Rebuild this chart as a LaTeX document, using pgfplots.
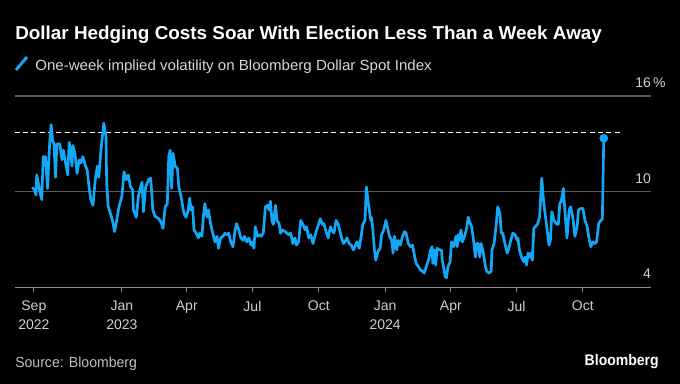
\documentclass[border=0pt]{standalone}
\usepackage{pgfplots}
\pgfplotsset{compat=1.18}
\usepackage{pgfplotstable}
\usepackage{graphicx}
\usepackage{fontspec}
\setmainfont{Liberation Sans}
\definecolor{lineblue}{HTML}{12A8F7}
\definecolor{gridgray}{HTML}{5C5C5C}
\definecolor{axisgray}{HTML}{8C8C8C}
\definecolor{tickgray}{HTML}{CFCFCF}
\definecolor{subgray}{HTML}{D6D6D6}
\definecolor{srcgray}{HTML}{BEBEBE}

% x = days since 1 Sep 2022, y = one-week implied volatility (%)
\pgfplotstableread{
x y
-2 10.28
1 10.1
3 9.8
4 11.05
6 10.6
8 10.1
11 9.5
13 12.2
16 12.2
19 10.2
22 13.1
24 14.2
26 13.2
28 13.0
30 10.9
32 13.0
36 13.0
39 12.0
41 12.6
44 11.8
47 11.05
49 13.1
51 12.4
53 11.6
54 12.9
57 12.4
60 11.15
63 12.0
65 11.8
68 12.2
71 11.7
74 11.35
77 10.1
79 9.5
82 9.15
85 10.7
88 11.6
90 10.9
93 12.6
95 13.45
97 14.3
100 13.45
101 10.5
103 9.1
106 8.65
109 8.2
112 7.5
114 8.0
118 9.05
122 9.7
125 11.25
128 10.75
131 11.05
134 10.3
137 10.1
138 8.85
142 8.4
145 9.7
148 10.3
150 10.6
152 8.75
155 10.3
159 10.75
162 10.85
165 8.85
168 8.45
172 8.35
175 8.2
177 8.0
179 7.7
182 9.05
185 9.25
187 12.2
189 12.6
191 10.2
193 12.4
196 11.6
199 11.45
201 10.3
204 9.7
208 8.65
211 8.4
214 8.85
216 9.6
218 8.85
220 9.05
222 7.6
225 7.4
228 7.1
230 7.4
233 7.2
235 8.4
237 9.25
240 8.4
242 8.85
245 8.0
248 7.4
251 6.85
254 7.2
256 6.45
259 7.1
262 7.2
265 7.4
267 7.3
270 7.4
273 6.85
276 6.55
279 7.6
281 8.0
284 7.6
287 7.1
290 6.95
292 7.2
295 6.85
298 7.1
301 6.65
303 6.85
305 6.45
307 7.8
310 7.2
313 7.3
315 7.2
318 7.4
321 9.05
324 9.15
326 8.85
328 9.4
330 8.2
332 7.95
335 9.15
337 8.2
340 8.0
342 7.4
345 7.6
348 7.5
351 7.4
353 7.3
356 7.4
359 6.75
362 7.1
364 6.65
367 6.85
370 8.2
373 7.95
376 7.6
378 7.8
381 7.1
384 7.3
387 6.75
389 7.1
392 7.6
395 8.0
397 8.3
400 7.95
402 8.0
405 7.5
408 7.1
411 7.8
413 7.6
416 7.4
419 8.2
422 7.95
426 7.2
429 6.75
431 6.85
434 7.1
437 6.75
440 6.65
443 6.35
445 6.55
448 6.85
451 6.45
454 7.3
456 7.95
459 8.2
461 10.3
463 9.5
465 8.85
467 8.2
468 8.4
470 7.6
472 6.35
474 5.7
477 6.25
480 6.45
482 7.3
485 7.6
488 8.2
491 7.6
493 7.2
496 6.95
498 6.15
500 7.2
503 6.35
505 6.95
508 6.65
511 7.2
514 7.5
516 7.4
519 6.75
522 6.55
525 6.65
528 5.9
530 5.5
533 5.3
536 5.1
539 5.0
541 4.9
544 5.3
547 5.7
550 6.35
552 6.55
553 5.5
555 6.35
557 5.4
559 6.45
562 6.35
565 6.35
566 5.7
568 5.3
570 4.7
572 4.6
574 5.3
577 5.6
579 6.85
582 6.55
585 7.2
587 6.55
588 7.3
590 6.95
592 7.6
594 6.85
597 7.2
600 7.7
602 8.4
604 8.1
607 7.8
610 6.75
612 5.9
614 6.75
616 6.75
618 5.9
620 6.75
623 6.15
626 5.3
628 5.0
631 4.9
634 5.0
635 6.35
638 6.75
641 8.0
643 9.05
646 8.65
648 7.4
650 7.4
653 6.75
656 6.15
658 6.35
661 6.95
664 7.4
667 7.3
670 6.95
671 7.1
673 6.35
676 5.9
679 5.6
681 5.9
683 5.4
685 6.15
687 5.9
689 6.15
691 5.7
693 7.7
695 7.8
698 7.95
701 8.4
704 10.85
706 9.7
708 8.85
711 7.8
714 6.65
716 6.95
718 8.75
721 8.2
724 8.0
727 7.95
729 9.25
731 9.4
734 10.2
736 8.85
739 7.1
742 8.85
744 9.05
747 8.4
750 7.2
753 7.8
755 8.85
758 8.95
761 8.95
764 8.2
767 7.8
769 7.2
772 6.55
775 6.85
778 6.75
780 6.85
783 8.0
786 8.2
788 8.3
790 13.35
}\voldata

\begin{document}
\begin{tikzpicture}
\useasboundingbox (0,0) rectangle (510pt,288pt);
\fill[black] (0,0) rectangle (510pt,288pt);
\begin{axis}[
  at={(10.875pt,72.45pt)}, anchor=south west,
  scale only axis, width=477.5pt, height=143.55pt,
  xmin=-26.8, xmax=855.7, ymin=4, ymax=16,
  axis x line*=bottom, axis y line*=right,
  x axis line style={draw=axisgray, line width=1.1pt},
  y axis line style={draw=none},
  ytick={4,10,16}, yticklabels={4,10,16\rlap{\,\%}},
  ymajorgrids, grid style={draw=gridgray, line width=0.8pt},
  ytick style={draw=none},
  xtick={0,122,212,303,395,487,578,669,761},
  xticklabels={Sep\\2022,Jan\\2023,Apr,Jul,Oct,Jan\\2024,Apr,Jul,Oct},
  xticklabel style={align=center, font=\fontsize{10.5}{13.8}\selectfont, text=tickgray, yshift=-3pt},
  tick align=outside, major tick length=3.75pt,
  xtick style={draw=axisgray, line width=0.8pt},
  yticklabel style={anchor=base east, inner sep=0pt, xshift=-3.75pt, yshift=6.5pt, font=\fontsize{10.5}{12}\selectfont, text=tickgray},
  clip=false,
  /pgf/number format/assume math mode=true,
]
\addplot[white, line width=1.1pt, dash pattern=on 3.75pt off 2.5pt] coordinates {(-26.8,13.72) (815,13.72)};
\addplot[lineblue, line width=2pt, line join=round, no marks] table[x=x,y=y] {\voldata};
\addplot[lineblue, only marks, mark=*, mark size=3pt] coordinates {(790,13.35)};
\end{axis}
\node[anchor=base west, inner sep=0pt, text=white] at (11.25pt,258.5pt) {\resizebox{440pt}{\height}{\fontsize{14}{16}\selectfont\bfseries Dollar Hedging Costs Soar With Election Less Than a Week Away}};
\draw[lineblue, line width=2.2pt] (12pt,235.5pt) -- (20.25pt,245.25pt);
\node[anchor=base west, inner sep=0pt, text=subgray] at (26.25pt,235.3pt) {\resizebox{297.4pt}{\height}{\fontsize{11}{13}\selectfont One-week implied volatility on Bloomberg Dollar Spot Index}};
\node[anchor=base west, inner sep=0pt, text=srcgray] at (11.25pt,12.2pt) {\resizebox{91.3pt}{\height}{\fontsize{11}{13}\selectfont Source: Bloomberg}};
\node[anchor=base east, inner sep=0pt, text=white] at (494.25pt,13.5pt) {\resizebox{55.5pt}{\height}{\fontsize{11.5}{13}\selectfont\bfseries Bloomberg}};
\end{tikzpicture}
\end{document}
